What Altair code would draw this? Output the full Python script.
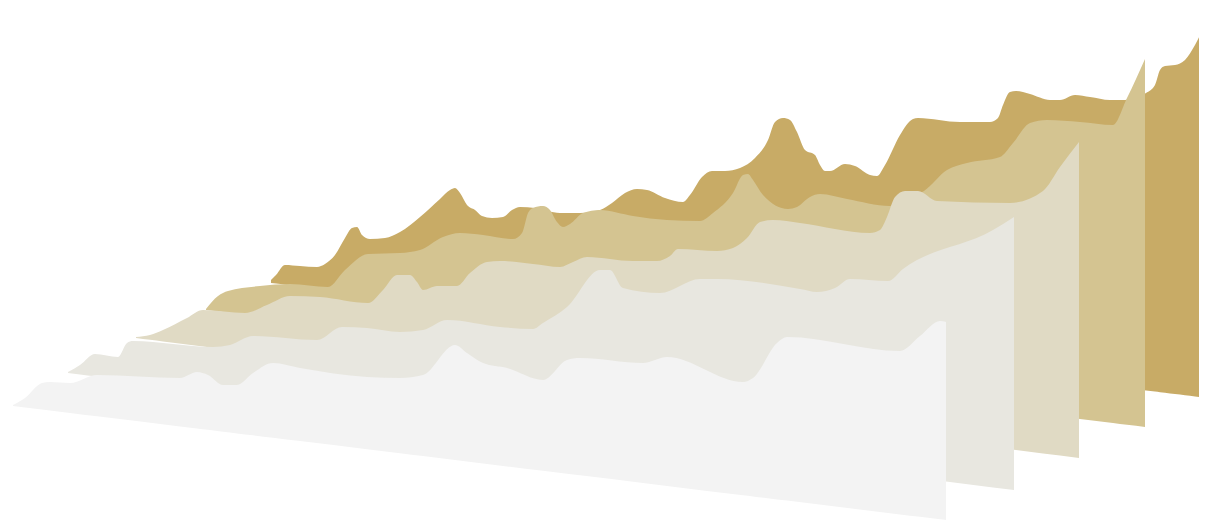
import altair as alt
import pandas as pd

colors = ["#c8ab66", "#d4c491", "#e0dac4", "#e8e7e0", "#f3f3f3"]

x1 = [271,276,285,300,317,325,335,345,352,357,362,370,385,400,420,440,450,455,460,467,475,482,492,503,512,520,535,560,580,600,612,625,637,647,665,683,690,702,712,725,740,755,768,775,783,790,797,805,815,820,825,830,845,855,870,877,885,900,913,918,960,990,998,1003,1010,1016,1030,1050,1060,1075,1090,1110,1125,1146,1155,1160,1165,1175,1185,1195,1207]
y1 = [280,275,265,266,267,264,255,238,228,227,235,239,238,232,217,199,190,188,193,205,210,216,218,217,210,207,208,213,213,210,203,193,189,190,198,202,195,177,171,171,168,158,140,122,118,120,132,150,155,165,171,171,164,166,175,176,165,135,119,118,122,122,118,105,92,91,94,100,100,95,97,100,100,93,85,70,66,65,60,45,20]
b1 = [283.0,283.6,284.7,286.6,288.7,289.6,290.9,292.1,293.0,293.6,294.2,295.2,297.0,298.8,301.3,303.8,305.0,305.6,306.2,307.1,308.1,308.9,310.2,311.5,312.6,313.6,315.4,318.5,321.0,323.4,324.9,326.5,328.0,329.2,331.4,333.6,334.5,336.0,337.2,338.8,340.6,342.5,344.1,344.9,345.9,346.8,347.6,348.6,349.8,350.5,351.1,351.7,353.5,354.7,356.6,357.5,358.4,360.3,361.9,362.5,367.7,371.3,372.3,372.9,373.8,374.5,376.2,378.7,379.9,381.8,383.6,386.1,387.9,390.5,391.6,392.2,392.8,394.1,395.3,396.5,398.0]

x2 = [206,218,228,260,290,328,345,368,400,420,443,460,483,513,522,528,533,543,550,557,563,570,583,600,633,667,700,713,733,743,748,753,763,788,797,810,820,847,890,905,924,947,967,1000,1013,1030,1047,1080,1113,1127,1145]
y2 = [309,296,291,286,284,287,270,254,253,250,237,233,235,239,233,213,208,206,210,222,227,224,213,210,216,220,221,213,193,175,174,180,195,209,207,197,194,199,206,199,191,170,163,157,143,123,120,122,125,98,59]
b2 = [310.0,311.5,312.7,316.7,320.5,325.2,327.3,330.2,334.2,336.7,339.5,341.6,344.5,348.3,349.4,350.1,350.7,352.0,352.9,353.7,354.5,355.4,357.0,359.1,363.2,367.4,371.6,373.2,375.7,376.9,377.5,378.2,379.4,382.5,383.6,385.3,386.5,389.9,395.2,397.1,399.5,402.3,404.8,408.9,410.6,412.7,414.8,418.9,423.0,424.8,427.0]

x3 = [136,150,163,187,203,245,267,290,320,368,383,397,410,417,423,437,457,470,487,500,533,560,573,587,633,657,670,678,717,733,747,760,773,800,870,880,887,895,905,918,937,1010,1043,1060,1079]
y3 = [337,335,330,318,310,313,305,296,297,303,290,275,275,282,290,286,286,273,262,261,264,267,262,257,261,261,256,249,251,248,238,222,220,223,233,230,217,197,191,191,201,203,191,167,142]
b3 = [338.0,339.8,341.4,344.5,346.5,351.9,354.7,357.6,361.4,367.5,369.4,371.2,372.9,373.8,374.5,376.3,378.8,380.5,382.7,384.3,388.5,392.0,393.6,395.4,401.2,404.3,406.0,407.0,411.9,414.0,415.8,417.4,419.1,422.5,431.4,432.7,433.6,434.6,435.9,437.5,439.9,449.2,453.4,455.6,458.0]

x4 = [68,80,95,118,127,133,213,230,253,317,342,367,400,423,447,500,533,543,567,600,610,623,660,700,717,800,817,835,850,888,903,993,1014]
y4 = [372,365,354,357,343,341,347,345,336,340,327,328,332,330,320,327,329,323,307,270,270,288,293,279,279,289,292,288,279,281,269,230,217]
b4 = [373.0,374.5,376.3,379.2,380.3,381.0,390.9,393.0,395.9,403.8,406.9,410.0,414.1,416.9,419.9,426.4,430.5,431.7,434.7,438.8,440.0,441.6,446.2,451.2,453.3,463.5,465.6,467.9,469.7,474.4,476.3,487.4,490.0]

x5 = [13,25,42,50,70,97,180,197,208,223,237,253,273,300,367,400,423,455,467,483,507,543,567,580,643,667,743,753,777,787,900,920,940,946]
y5 = [405,398,383,382,383,375,378,372,375,385,385,373,363,368,377,378,375,345,353,363,368,380,360,358,363,357,382,378,343,337,351,336,321,322]
b5 = [406.0,407.5,409.5,410.5,413.0,416.3,426.4,428.5,429.8,431.7,433.4,435.3,437.8,441.1,449.3,453.3,456.1,460.0,461.5,463.4,466.4,470.8,473.7,475.3,483.0,485.9,495.2,496.4,499.4,500.6,514.4,516.8,519.3,520.0]

layers = []
for xs, ys, bs, c in zip([x1, x2, x3, x4, x5], [y1, y2, y3, y4, y5], [b1, b2, b3, b4, b5], colors):
    df = pd.DataFrame({"x": xs, "top": ys, "base": bs})
    layers.append(
        alt.Chart(df).mark_area(color=c, interpolate="monotone", clip=True).encode(
            x=alt.X("x:Q", scale=alt.Scale(domain=[8, 1199], nice=False, zero=False), axis=None),
            y=alt.Y("top:Q", scale=alt.Scale(domain=[520, 8], nice=False, zero=False), axis=None),
            y2=alt.Y2("base:Q"),
        )
    )

chart = alt.layer(*layers).properties(width=1191, height=512, padding=0, background="#ffffff").configure_view(stroke=None)
chart.save("out.html", embed_options={"renderer": "svg", "actions": False})
